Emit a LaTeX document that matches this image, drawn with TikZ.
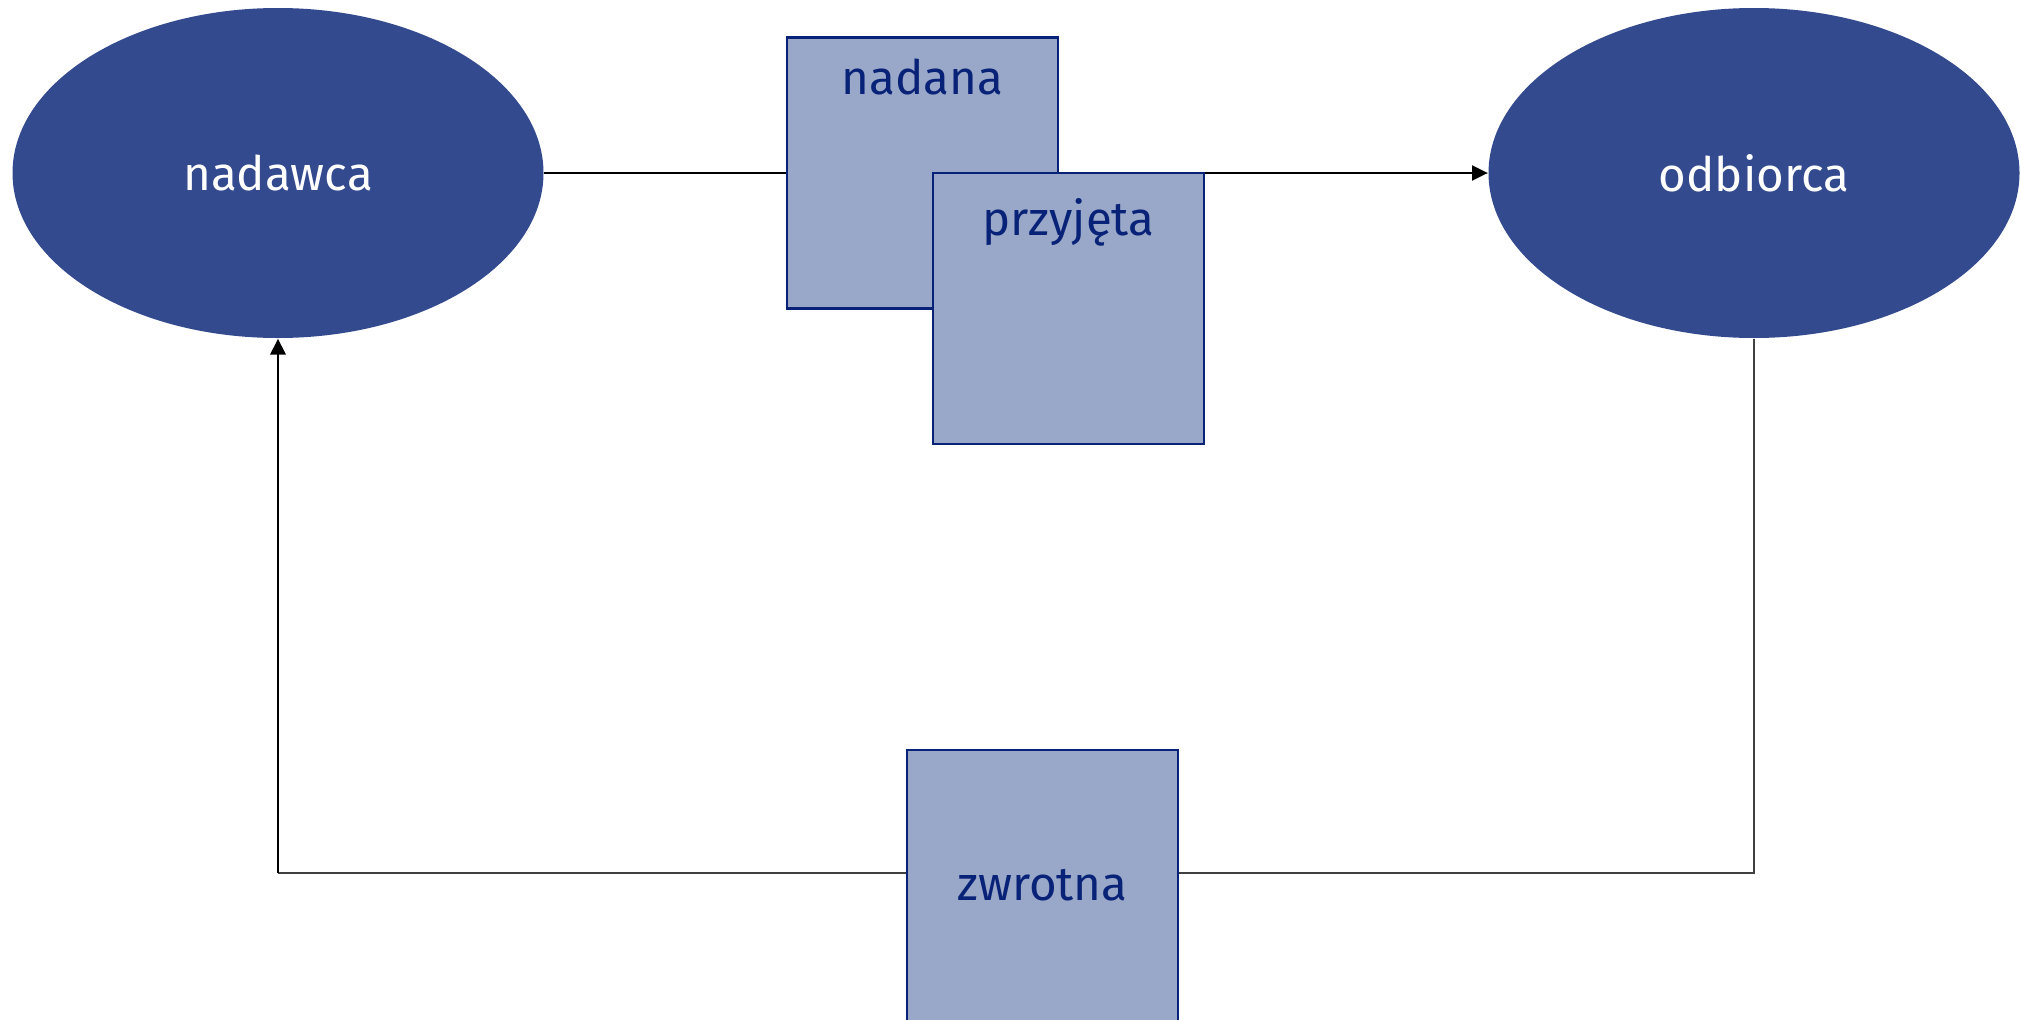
\documentclass[tikz,border=0pt]{standalone}
\usepackage{fontspec}
\setmainfont{Fira Sans}
\usetikzlibrary{shapes.geometric,arrows.meta}
\definecolor{ciemny}{RGB}{51,74,143}
\definecolor{jasny}{RGB}{153,167,200}
\definecolor{granat}{RGB}{8,34,120}
\newcommand{\kolo}[3]{\node[ellipse,fill=ciemny,text=white,inner sep=0pt,minimum width=5.31cm,minimum height=3.3cm] (#1) at (#2) {#3};}
\newcommand{\pole}[4]{\node[pudlo,label={[text=granat,anchor=north,text height=#4]north:#3}] (#1) at (#2) {};}

\begin{document}
\begin{tikzpicture}[font=\fontsize{13.5}{16}\selectfont,
    pudlo/.style={draw=granat,fill=jasny,line width=0.6pt,minimum size=2.71cm,inner sep=0pt,text=granat},
    >={Triangle[length=4.5pt,width=4.3pt]}]
      \useasboundingbox (0,0) rectangle (20.21,-10.19);
      \kolo{nadawca}{2.78,-1.73}{nadawca}
      \kolo{odbiorca}{17.54,-1.73}{odbiorca}
      \draw[->,line width=0.5pt] (nadawca.east) -- (odbiorca.west);
      \pole{nadana}{9.225,-1.73}{nadana}{13pt}
      \pole{przyjeta}{10.685,-3.085}{przyjęta}{14.5pt}
      \node[pudlo] (zwrotna) at (10.425,-8.855) {zwrotna};
      \coordinate (p) at (17.54,-8.73);
      \coordinate (l) at (2.78,-8.73);
      {\color{black!75}
      \draw[line width=0.4pt] (odbiorca.south) -- (p) -- (zwrotna.east |- p);
      \draw[line width=0.4pt] (zwrotna.west |- l) -- (l);
      }
      \draw[->,line width=0.75pt] (l) -- (nadawca.south);
    \end{tikzpicture}
\end{document}
